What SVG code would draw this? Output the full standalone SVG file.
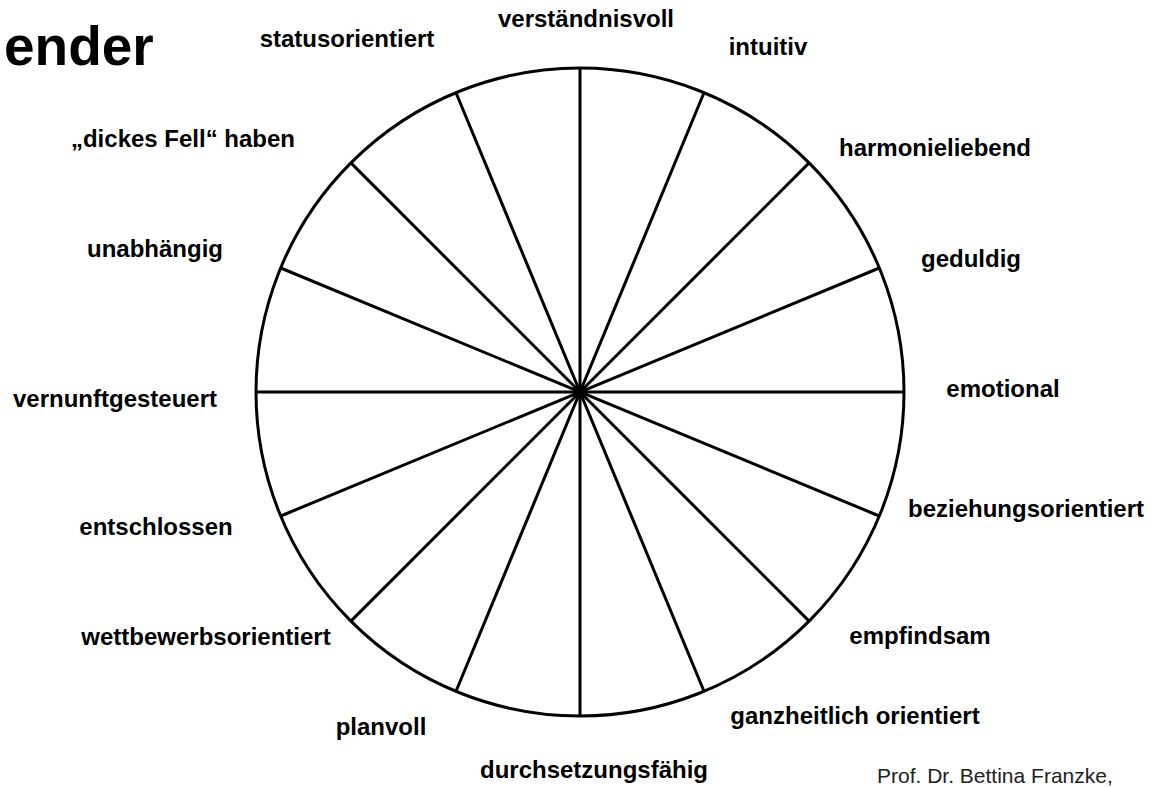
<svg xmlns="http://www.w3.org/2000/svg" width="1166" height="787" viewBox="0 0 1166 787">
<style>
.lbl{font-family:"Liberation Sans",Arial,sans-serif;font-weight:bold;font-size:24px;fill:#000;text-anchor:middle}
.ln{stroke:#000;stroke-width:3;fill:none}
</style>
<rect width="1166" height="787" fill="#fff"/>
<text x="4" y="65" font-family="Liberation Sans,Arial,sans-serif" font-weight="bold" font-size="55" fill="#000">ender</text>
<g id="wheel">
<circle class="ln" cx="580" cy="392" r="324"/>
</g>
<g id="spokes">
<line class="ln" x1="580" y1="68" x2="580" y2="716"/>
<line class="ln" x1="256" y1="392" x2="904" y2="392"/>
<line class="ln" x1="704" y1="92.7" x2="456" y2="691.3"/>
<line class="ln" x1="809.1" y1="162.9" x2="350.9" y2="621.1"/>
<line class="ln" x1="879.3" y1="268" x2="280.7" y2="516"/>
<line class="ln" x1="879.3" y1="516" x2="280.7" y2="268"/>
<line class="ln" x1="809.1" y1="621.1" x2="350.9" y2="162.9"/>
<line class="ln" x1="704" y1="691.3" x2="456" y2="92.7"/>
</g>
<g id="labels">
<text id="t1" class="lbl" x="586" y="27">verständnisvoll</text>
<text id="t2" class="lbl" x="768" y="55">intuitiv</text>
<text id="t3" class="lbl" x="935" y="156">harmonieliebend</text>
<text id="t4" class="lbl" x="971" y="267">geduldig</text>
<text id="t5" class="lbl" x="1003" y="397">emotional</text>
<text id="t6" class="lbl" x="1026" y="517">beziehungsorientiert</text>
<text id="t7" class="lbl" x="920" y="644">empfindsam</text>
<text id="t8" class="lbl" x="855" y="724">ganzheitlich orientiert</text>
<text id="t9" class="lbl" x="594" y="778">durchsetzungsfähig</text>
<text id="t10" class="lbl" x="381" y="735">planvoll</text>
<text id="t11" class="lbl" x="206" y="645">wettbewerbsorientiert</text>
<text id="t12" class="lbl" x="156" y="535">entschlossen</text>
<text id="t13" class="lbl" x="115" y="407">vernunftgesteuert</text>
<text id="t14" class="lbl" x="155" y="257">unabhängig</text>
<text id="t15" class="lbl" x="183" y="147">„dickes Fell“ haben</text>
<text id="t16" class="lbl" x="347" y="47">statusorientiert</text>
</g>
<text x="877" y="783" font-family="Liberation Sans,Arial,sans-serif" font-size="21" fill="#222">Prof. Dr. Bettina Franzke,</text>
</svg>
